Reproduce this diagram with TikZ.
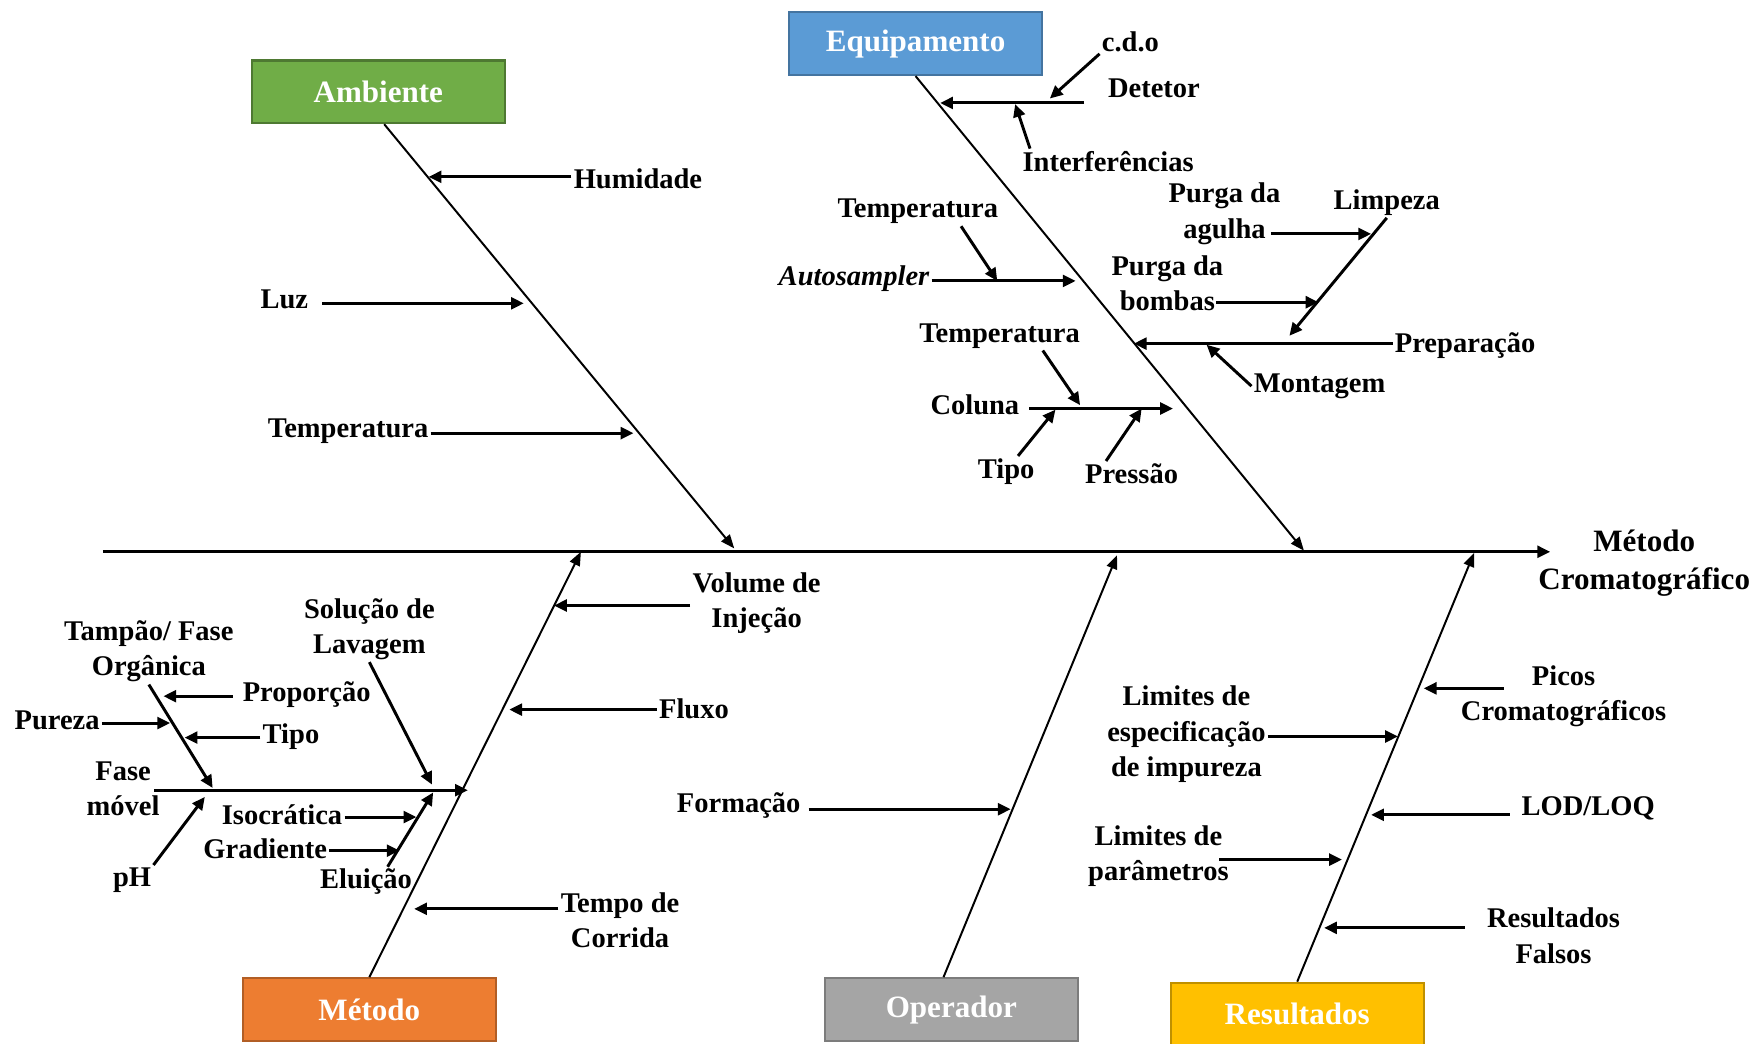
\documentclass[tikz,border=0pt]{standalone}
\usepackage{fontspec}
\setmainfont{Liberation Serif}
\usetikzlibrary{arrows.meta}
\definecolor{ambGreen}{HTML}{70AD47}
\definecolor{eqBlue}{HTML}{5B9BD5}
\definecolor{metOrange}{HTML}{ED7D31}
\definecolor{opGray}{HTML}{A5A5A5}
\definecolor{resYellow}{HTML}{FFC000}
\begin{document}
\begin{tikzpicture}[
    x=0.02cm, y=-0.02cm,
    every node/.style={font=\fontsize{14.5}{18}\selectfont\bfseries, inner sep=1pt},
    lbl/.style    ={align=center},
    ambbox/.style ={rectangle, draw=ambGreen!70!black, fill=ambGreen, line width=1.1pt, text=white, minimum width=4.52cm, minimum height=1.12cm, font=\fontsize{15.8}{18}\selectfont\bfseries},
    eqbox/.style  ={rectangle, draw=eqBlue!75!black, fill=eqBlue, line width=1.1pt, text=white, minimum width=4.52cm, minimum height=1.12cm, font=\fontsize{15.8}{18}\selectfont\bfseries},
    metbox/.style ={rectangle, draw=metOrange!75!black, fill=metOrange, line width=1.1pt, text=white, minimum width=4.52cm, minimum height=1.12cm, font=\fontsize{15.8}{18}\selectfont\bfseries},
    opbox/.style  ={rectangle, draw=opGray!75!black, fill=opGray, line width=1.1pt, text=white, minimum width=4.52cm, minimum height=1.12cm, font=\fontsize{15.8}{18}\selectfont\bfseries},
    resbox/.style ={rectangle, draw=resYellow!75!black, fill=resYellow, line width=1.1pt, text=white, minimum width=4.52cm, minimum height=1.12cm, font=\fontsize{15.8}{18}\selectfont\bfseries},
    bone/.style   ={-{Triangle[length=7pt, width=5.5pt]}, line width=1pt},
    arrow/.style  ={-{Triangle[length=6.5pt, width=6pt]}, line width=1.5pt}
]
\useasboundingbox (0,0) rectangle (1568,932);
\node[ambbox] (ambiente) at (338,82) {Ambiente};
\node[eqbox] (equip) at (818,39) {Equipamento};
\node[metbox] (metodo) at (330,902) {Método};
\node[opbox] (operador) at (850,902) {Operador};
\node[resbox] (result) at (1159,906) {Resultados};
\node[lbl, font=\fontsize{15.8}{19.5}\selectfont\bfseries] (effect) at (1469,503) {Método\\Cromatográfico};
\coordinate (tail) at (92,493);
\coordinate (head) at (1385,493);
\coordinate (ambTip) at (656,490);
\coordinate (eqTip) at (1165,492);
\coordinate (metTip) at (519,493);
\coordinate (opTip) at (998,496);
\coordinate (resTip) at (1317,494);
\draw[arrow] (tail) -- (head);
\draw[bone] ([xshift=3pt]ambiente.south) -- (ambTip);
\draw[bone] (equip.south) -- (eqTip);
\draw[bone] (metodo.north) -- (metTip);
\draw[bone] ([xshift=-4pt]operador.north) -- (opTip);
\draw[bone] (result.north) -- (resTip);
% Ambiente
\node (hum) at (570,160) {Humidade};
\node (luz) at (254,267) {Luz};
\node (tempA) at (311,385) {Temperatura};
\coordinate (hum-e) at (383,158);
\coordinate (luz-e) at (468,271);
\coordinate (tempA-e) at (566,387);
\draw[arrow] (hum.west |- hum-e) -- (hum-e);
\draw[arrow] ([xshift=6pt]luz.east |- luz-e) -- (luz-e);
\draw[arrow] (tempA.east |- tempA-e) -- (tempA-e);
% Equipamento
\node (det) at (1031,79) {Detetor};
\node (cdo) at (1010,37) {c.d.o};
\node (intf) at (990,144) {Interferências};
\node (tempE1) at (820,189) {Temperatura};
\node (auto) at (763,249) {\itshape Autosampler};
\node[lbl] (pagu) at (1094,191) {Purga da\\agulha};
\node (limp) at (1239,181) {Limpeza};
\node[lbl] (pbom) at (1043,253) {Purga da\\bombas};
\node (prep) at (1309,309) {Preparação};
\node (mont) at (1179,345) {Montagem};
\node (tempE2) at (893,300) {Temperatura};
\node (col) at (871,362) {Coluna};
\node (tipoE) at (899,421) {Tipo};
\node (pres) at (1011,423) {Pressão};
\coordinate (det-e) at (840,92);
\coordinate (cdo-e) at (938,88);
\coordinate (intf-e) at (907,93);
\coordinate (auto-e) at (961,251);
\coordinate (tempE1-e) at (891,251);
\coordinate (limp-e) at (1152,300);
\coordinate (pagu-e) at (1225,209);
\coordinate (pbom-e) at (1178,270);
\coordinate (prep-e) at (1013,307);
\coordinate (mont-e) at (1078,308);
\coordinate (col-e) at (1048,365);
\coordinate (tempE2-e) at (965,362);
\coordinate (tipoE-e) at (943,366);
\coordinate (pres-e) at (1020,365);
\draw[arrow] ([xshift=-11pt]det.west |- det-e) -- (det-e);
\draw[arrow] (cdo.south west) -- (cdo-e);
\draw[arrow] ([xshift=5pt]intf.north west) -- (intf-e);
\draw[arrow] (auto.east |- auto-e) -- (auto-e);
\draw[arrow] ([xshift=-20pt]tempE1.south east) -- (tempE1-e);
\draw[arrow] (limp.south) -- (limp-e);
\draw[arrow] ([xshift=-6pt]pagu.east |- pagu-e) -- (pagu-e);
\draw[arrow] ([xshift=-5pt]pbom.east |- pbom-e) -- (pbom-e);
\draw[arrow] (prep.west |- prep-e) -- (prep-e);
\draw[arrow] (mont.west) -- (mont-e);
\draw[arrow] ([xshift=4pt]col.east |- col-e) -- (col-e);
\draw[arrow] ([xshift=-20pt]tempE2.south east) -- (tempE2-e);
\draw[arrow] ([xshift=6pt]tipoE.north) -- (tipoE-e);
\draw[arrow] ([xshift=-13pt]pres.north) -- (pres-e);
% Metodo
\node[lbl] (vol) at (676,539) {Volume de\\Injeção};
\node (flux) at (620,633) {Fluxo};
\node[lbl] (tempo) at (554,822) {Tempo de\\Corrida};
\node[lbl] (fase) at (110,705) {Fase\\móvel};
\node[lbl] (tamp) at (133,582) {Tampão/ Fase\\Orgânica};
\node (prop) at (274,621) {Proporção};
\node (pur) at (51,644) {Pureza};
\node (tipoM) at (260,658) {Tipo};
\node (ph) at (118,786) {pH};
\node[lbl] (sol) at (330,562) {Solução de\\Lavagem};
\node (iso) at (252,728) {Isocrática};
\node (grad) at (237,758) {Gradiente};
\node (elu) at (327,788) {Eluição};
\coordinate (vol-e) at (495,541);
\coordinate (flux-e) at (455,634);
\coordinate (tempo-e) at (370,812);
\coordinate (fase-e) at (418,706);
\coordinate (tamp-e) at (190,704);
\coordinate (prop-e) at (146,622);
\coordinate (pur-e) at (152,646);
\coordinate (tipoM-e) at (165,659);
\coordinate (ph-e) at (183,712);
\coordinate (sol-e) at (386,701);
\coordinate (iso-e) at (372,730);
\coordinate (grad-e) at (357,760);
\coordinate (elu-e) at (387,708);
\draw[arrow] (vol.west |- vol-e) -- (vol-e);
\draw[arrow] (flux.west |- flux-e) -- (flux-e);
\draw[arrow] (tempo.west |- tempo-e) -- (tempo-e);
\draw[arrow] ([xshift=-4pt]fase.east |- fase-e) -- (fase-e);
\draw[arrow] (tamp.south) -- (tamp-e);
\draw[arrow] ([xshift=-4pt]prop.west |- prop-e) -- (prop-e);
\draw[arrow] (pur.east |- pur-e) -- (pur-e);
\draw[arrow] (tipoM.west |- tipoM-e) -- (tipoM-e);
\draw[arrow] (ph.north east) -- (ph-e);
\draw[arrow] (sol.south) -- (sol-e);
\draw[arrow] (iso.east |- iso-e) -- (iso-e);
\draw[arrow] (grad.east |- grad-e) -- (grad-e);
\draw[arrow] ([xshift=11pt]elu.north) -- (elu-e);
% Operador
\node (form) at (660,720) {Formação};
\coordinate (form-e) at (903,723);
\draw[arrow] ([xshift=3pt]form.east |- form-e) -- (form-e);
% Resultados
\node[lbl] (picos) at (1397,622) {Picos\\Cromatográficos};
\node[lbl] (lesp) at (1060,656) {Limites de\\especificação\\de impureza};
\node (lod) at (1419,722) {LOD/LOQ};
\node[lbl] (lpar) at (1035,765) {Limites de\\parâmetros};
\node[lbl] (rfal) at (1388,836) {Resultados\\Falsos};
\coordinate (picos-e) at (1272,615);
\coordinate (lesp-e) at (1249,658);
\coordinate (lod-e) at (1225,728);
\coordinate (lpar-e) at (1199,768);
\coordinate (rfal-e) at (1183,829);
\draw[arrow] ([xshift=23pt]picos.west |- picos-e) -- (picos-e);
\draw[arrow] (lesp.east |- lesp-e) -- (lesp-e);
\draw[arrow] ([xshift=-5pt]lod.west |- lod-e) -- (lod-e);
\draw[arrow] ([xshift=-6pt]lpar.east |- lpar-e) -- (lpar-e);
\draw[arrow] ([xshift=-10pt]rfal.west |- rfal-e) -- (rfal-e);
\end{tikzpicture}
\end{document}
